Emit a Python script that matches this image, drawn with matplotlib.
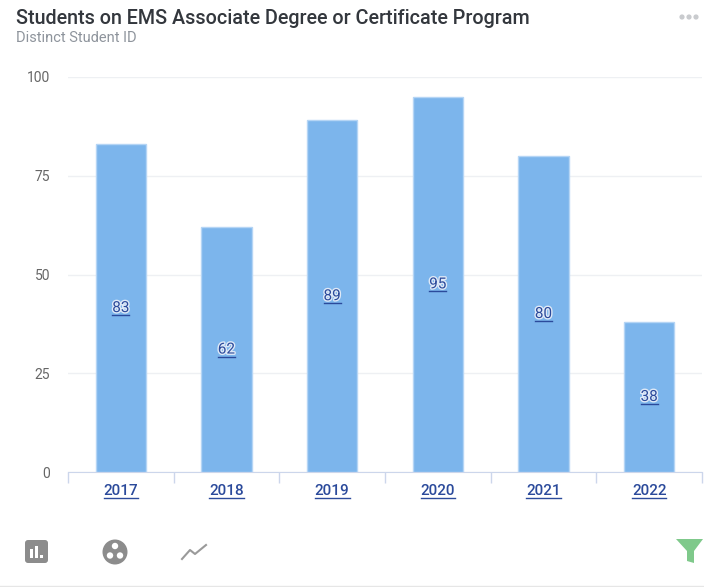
import matplotlib
matplotlib.use("Agg")
import matplotlib.pyplot as plt
import matplotlib.patheffects as pe
from matplotlib.patches import Circle, FancyBboxPatch, Polygon, Rectangle

years = ["2017", "2018", "2019", "2020", "2021", "2022"]
students = [83, 62, 89, 95, 80, 38]
y_ticks = [0, 25, 50, 75, 100]

plt.rcParams["font.family"] = ["Roboto", "DejaVu Sans"]

W, H = 704, 587
fig = plt.figure(figsize=(W / 100, H / 100), dpi=100)

# overlay in pixel coords for the header and the icons
bg = fig.add_axes([0, 0, 1, 1])
bg.set_xlim(0, W)
bg.set_ylim(H, 0)
bg.axis("off")

ax = fig.add_axes([68 / W, 1 - 472 / H, (702 - 68) / W, (472 - 77) / H])
ax.patch.set_alpha(0)
pos = range(len(years))
ax.bar(pos, students, width=0.475, color="#7cb5ec", edgecolor="#b5d5f5", linewidth=1, zorder=3)
ax.set_xlim(-0.5, 5.5)
ax.set_ylim(0, 100)
ax.set_yticks(y_ticks)
ax.tick_params(axis="y", length=0, pad=13, labelsize=10, labelcolor="#666666")
ax.grid(axis="y", color="#eef0f3", linewidth=1, zorder=0)
for s in ["top", "left", "right"]:
    ax.spines[s].set_visible(False)
ax.spines["bottom"].set_color("#ccd6eb")
ax.set_xticks([-0.5 + i for i in range(7)])
ax.set_xticklabels([])
ax.tick_params(axis="x", length=8, color="#ccd6eb", width=1)

# year labels and value labels, underlined like the links they are
link = "#2b4a9b"
texts = []
for i, yr in enumerate(years):
    t = ax.annotate(yr, (i, 0), xytext=(0, -14), textcoords="offset points", ha="center", va="center",
                    fontsize=11, fontweight="medium", color=link)
    texts.append(t)
for i, v in enumerate(students):
    t = ax.text(i, v / 2, str(v), ha="center", va="center", fontsize=11, color=link, zorder=5,
                path_effects=[pe.withStroke(linewidth=2, foreground="#dfe9f7")])
    texts.append(t)

fig.canvas.draw()
rend = fig.canvas.get_renderer()
for t in texts:
    bb = t.get_window_extent(rend)
    y = H - (bb.y0 + bb.y1) / 2 + 7
    bg.plot([bb.x0, bb.x1], [y, y], color=link, lw=1, zorder=6)

bg.set_zorder(2)

bg.text(16, 18, "Students on EMS Associate Degree or Certificate Program", fontsize=14.2, fontweight="medium",
        color="#33373d", va="center", ha="left")
bg.text(16, 38, "Distinct Student ID", fontsize=10.5, color="#8e949c", va="center", ha="left")

# menu dots
for x in [682, 689, 696]:
    bg.add_patch(Circle((x, 17), 2.6, color="#c9cbce", lw=0))

# bottom toolbar icons
grey = "#8c8c8c"
bg.add_patch(FancyBboxPatch((25, 540), 23, 23, boxstyle="round,pad=0,rounding_size=3", color=grey, lw=0))
for x, top in [(29.5, 549), (34.5, 546), (39.5, 555)]:
    bg.add_patch(Rectangle((x, top), 3, 558 - top, color="white", lw=0))
bg.add_patch(Circle((115, 552), 12.5, color=grey, lw=0))
for x, y in [(115, 546), (110, 555.5), (120, 555.5)]:
    bg.add_patch(Circle((x, y), 3.2, color="white", lw=0))
bg.plot([182, 190, 195, 206], [559, 550, 554, 545], color="#9a9a9a", lw=1.5)
bg.add_patch(Polygon([(676, 539), (703, 539), (694, 551), (694, 563), (687, 561), (687, 551)],
                     closed=True, color="#7fc98b", lw=0))
bg.plot([0, W], [586, 586], color="#e6e6e6", lw=1)

fig.savefig("out.png", dpi=100)
